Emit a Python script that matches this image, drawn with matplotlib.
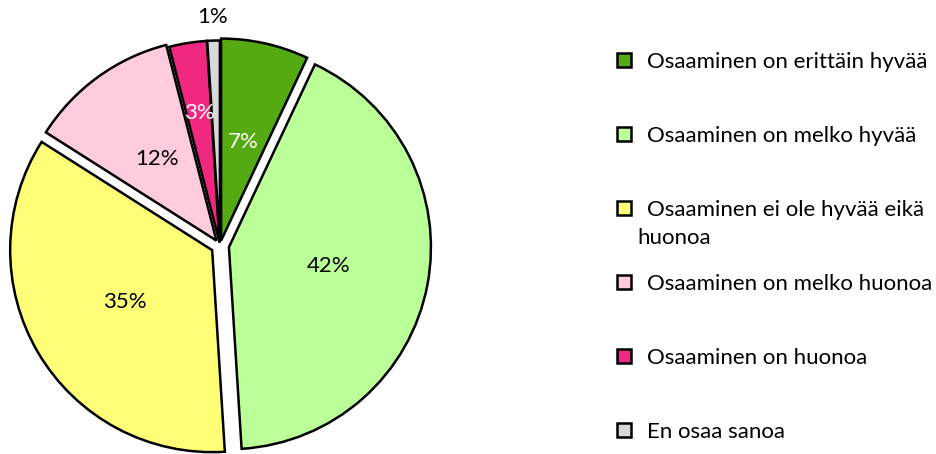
import numpy as np
import matplotlib.pyplot as plt
from matplotlib.patches import Rectangle

# ====== DATA ======
labels = ['Osaaminen on erittäin hyvää',
          'Osaaminen on melko hyvää',
          'Osaaminen ei ole hyvää eikä\nhuonoa',
          'Osaaminen on melko huonoa',
          'Osaaminen on huonoa',
          'En osaa sanoa']
values = [7, 42, 35, 12, 3, 1]
colors = ['#56AA11', '#BBFF99', '#FFFF77', '#FFCCDD', '#F0287F', '#D9D9D9']
text_colors = ['white', 'black', 'black', 'black', 'white', 'black']
explode = [0.025, 0.045, 0.045, 0.03, 0.015, 0.015]

plt.rcParams['font.family'] = ['Lato', 'DejaVu Sans']
fs = 16

W, H = 936, 454
fig = plt.figure(figsize=(W/100, H/100), dpi=100)

# pie centre and radius in pixels
cx, cy, R = 220, 245.5, 202
ax = fig.add_axes([0, 0, 1, 1])

wedges, texts, autotexts = ax.pie(values, colors=colors, explode=explode,
                                  startangle=90, counterclock=False,
                                  autopct='%1.0f%%', pctdistance=0.5,
                                  wedgeprops=dict(edgecolor='black', linewidth=1.8),
                                  textprops=dict(fontsize=fs))

# move the small slices' labels out a bit (like the original)
tot = float(sum(values))
cum = np.cumsum(values)
for i, t in enumerate(autotexts):
    t.set_color(text_colors[i])
    mid = np.deg2rad(90 - 360*(cum[i] - values[i]/2)/tot)
    if i == 4:
        r = 0.65 + explode[i]
        t.set_position((r*np.cos(mid), r*np.sin(mid)))
    if i == 5:
        r = 1.13
        t.set_position((r*np.cos(mid), r*np.sin(mid)))

ax.set_xlim(-cx/R, (W - cx)/R)
ax.set_ylim(-(H - cy)/R, cy/R)
ax.set_aspect('auto')
ax.axis('off')

# ====== LEGEND ======
for i, lab in enumerate(labels):
    yc = 60 + 74*i
    fig.add_artist(Rectangle(((617)/W, 1 - (yc + 7)/H), 14/W, 14/H,
                             transform=fig.transFigure, facecolor=colors[i],
                             edgecolor='black', linewidth=1.8))
    for j, line in enumerate(lab.split('\n')):
        x = 647 if j == 0 else 637
        fig.text(x/W, 1 - (yc + 8 + 28*j)/H, line, fontsize=fs,
                 ha='left', va='baseline')

plt.savefig('out.png', dpi=100)
